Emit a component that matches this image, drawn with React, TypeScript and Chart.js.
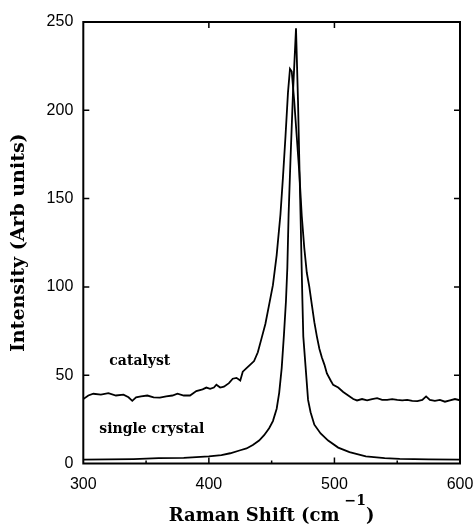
import React, { useEffect, useRef } from "react";
import { Chart, registerables } from "chart.js";

Chart.register(...registerables);

// ---- data ----
const catalystX = [300,304,308,314,320,326,332,336,339,342,346,351,356,361,366,371,375,380,385,390,395,398,401,404,406,409,412,416,419,422,425,427,430,433,436,439,442,445,448,451,454,457,459,461,463,464.6,466,468,470,472,474,476,478,480,482,484,486,488,490,492,494,497,499,503,507,511,515,518,522,526,530,534,538,542,546,550,554,558,562,566,570,573,576,580,584,588,592,596,600];
const catalystY = [36.5,38.5,39.5,39,39.8,38.5,39,37.5,35.5,37.5,38,38.5,37.5,37.3,38,38.5,39.5,38.5,38.5,41,42,43,42.3,43,44.6,43,43.5,45.5,48,48.5,47,52,54,56,58,63,71,79,90,101,118,141,162,185,210,223.5,222,205,185,165,140,122,108,100,90,80,72,65,60,56,51,47,44.5,43,40.5,38.5,36.5,35.7,36.5,35.8,36.5,37,36,36,36.5,36,35.8,36,35.5,35.3,36,38,36,35.5,36,35,35.8,36.5,35.8];

const crystalX = [300,320,340,360,380,400,410,417,425,430,435,440,444,448,451,454,456,458,459.8,461.4,462.5,463.5,465,467,469.4,471,472,473,473.9,474.5,475.2,477,479,481,484,489,495,503,512,525,540,552,575,600];
const crystalY = [2.2,2.3,2.5,3,3.2,4,4.8,5.8,7.5,8.5,10.5,13,16,20,24,31,40,54,73,92,111,141,172,210,246.5,205,172,141,111,92,72,55,36,29,22,17,13,9,6.4,4,3,2.6,2.3,2.2];

const xMajorTicks = [300, 400, 500, 600];
const xMinorTicks = [350, 450, 550];
const yMajorTicks = [0, 50, 100, 150, 200, 250];

const annotationText = ["catalyst", "single crystal"];
const annotationX = [345, 354.6];
const annotationY = [57.8, 19.3];

const xTitleMain = "Raman Shift (cm";
const xTitleSup = "\u22121";
const xTitleEnd = ")";
const yTitle = "Intensity (Arb units)";

const SERIF = '"DejaVu Serif", serif';
const SANS = '"Liberation Sans", Arial, sans-serif';

const toPoints = (xs: number[], ys: number[]) => xs.map((x, i) => ({ x, y: ys[i] }));

const framePlugin = {
  id: "framePlugin",
  afterDraw(chart: any) {
    const { ctx, chartArea: a, scales } = chart;
    const xs = scales.x;
    const ys = scales.y;
    ctx.save();
    ctx.strokeStyle = "#000";
    ctx.fillStyle = "#000";
    // frame
    ctx.lineWidth = 2;
    ctx.strokeRect(a.left, a.top, a.right - a.left, a.bottom - a.top);
    // inward ticks
    ctx.lineWidth = 1.5;
    ctx.beginPath();
    xMajorTicks.slice(1, -1).forEach((v) => {
      const p = xs.getPixelForValue(v);
      ctx.moveTo(p, a.bottom);
      ctx.lineTo(p, a.bottom - 6);
      ctx.moveTo(p, a.top);
      ctx.lineTo(p, a.top + 6);
    });
    xMinorTicks.forEach((v) => {
      const p = xs.getPixelForValue(v);
      ctx.moveTo(p, a.bottom);
      ctx.lineTo(p, a.bottom - 3);
    });
    yMajorTicks.slice(1, -1).forEach((v) => {
      const p = ys.getPixelForValue(v);
      ctx.moveTo(a.left, p);
      ctx.lineTo(a.left + 6, p);
      ctx.moveTo(a.right, p);
      ctx.lineTo(a.right - 6, p);
    });
    ctx.stroke();

    // annotations
    ctx.font = `bold 14px ${SERIF}`;
    ctx.textAlign = "center";
    ctx.textBaseline = "middle";
    annotationText.forEach((t, i) => {
      ctx.fillText(t, xs.getPixelForValue(annotationX[i]), ys.getPixelForValue(annotationY[i]));
    });

    // x title with superscript
    const mainFont = `bold 18px ${SERIF}`;
    const supFont = `bold 14px ${SERIF}`;
    ctx.font = mainFont;
    const wMain = ctx.measureText(xTitleMain).width;
    const wEnd = ctx.measureText(xTitleEnd).width;
    ctx.font = supFont;
    const wSup = ctx.measureText(xTitleSup).width;
    const gap = 5;
    const total = wMain + gap + wSup + wEnd;
    const cx = (a.left + a.right) / 2;
    let x0 = cx - total / 2;
    const base = 521;
    ctx.textAlign = "left";
    ctx.textBaseline = "alphabetic";
    ctx.font = mainFont;
    ctx.fillText(xTitleMain, x0, base);
    x0 += wMain + gap;
    ctx.font = supFont;
    ctx.fillText(xTitleSup, x0, base - 16);
    x0 += wSup;
    ctx.font = mainFont;
    ctx.fillText(xTitleEnd, x0, base);
    ctx.restore();
  },
};

export default function App() {
  const ref = useRef<HTMLCanvasElement | null>(null);
  useEffect(() => {
    document.body.style.margin = "0";
    if (!ref.current) return;
    const chart = new Chart(ref.current, {
      type: "line",
      data: {
        datasets: [
          {
            label: "catalyst",
            data: toPoints(catalystX, catalystY),
            borderColor: "#000",
            borderWidth: 1.8,
            pointRadius: 0,
            tension: 0,
            fill: false,
          },
          {
            label: "single crystal",
            data: toPoints(crystalX, crystalY),
            borderColor: "#000",
            borderWidth: 1.8,
            pointRadius: 0,
            tension: 0,
            fill: false,
          },
        ],
      },
      options: {
        responsive: false,
        animation: false,
        layout: { padding: { left: 0, right: 16, top: 22, bottom: 0 }, autoPadding: false },
        plugins: { legend: { display: false }, tooltip: { enabled: false } },
        scales: {
          x: {
            type: "linear",
            min: 300,
            max: 600,
            afterBuildTicks: (s: any) => {
              s.ticks = xMajorTicks.map((v) => ({ value: v }));
            },
            ticks: { color: "#000", font: { family: SANS, size: 16 }, padding: 11, maxRotation: 0 },
            grid: { display: false, drawTicks: false },
            border: { display: false },
            afterFit: (s: any) => {
              s.height = 63.5;
              s.paddingLeft = 0;
              s.paddingRight = 0;
            },
          },
          y: {
            type: "linear",
            min: 0,
            max: 250,
            afterBuildTicks: (s: any) => {
              s.ticks = yMajorTicks.map((v) => ({ value: v }));
            },
            ticks: { color: "#000", font: { family: SANS, size: 16 }, padding: 10 },
            grid: { display: false, drawTicks: false },
            border: { display: false },
            title: {
              display: true,
              text: yTitle,
              color: "#000",
              font: { family: SERIF, size: 19, weight: "bold" },
              padding: { top: 8, bottom: 0 },
            },
            afterFit: (s: any) => {
              s.width = 83.3;
              s.paddingTop = 0;
              s.paddingBottom = 0;
            },
          },
        },
      },
      plugins: [framePlugin],
    });
    return () => chart.destroy();
  }, []);
  return <canvas ref={ref} width={476} height={527} style={{ display: "block" }} />;
}
